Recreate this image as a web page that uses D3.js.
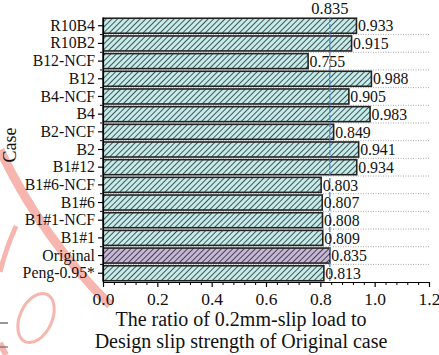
<!DOCTYPE html>
<html><head><meta charset="utf-8">
<script src="https://cdn.jsdelivr.net/npm/d3@7"></script>
<style>html,body{margin:0;padding:0;background:#fff;overflow:hidden}svg{display:block}</style>
</head><body>
<script>
const categories = ["R10B4","R10B2","B12-NCF","B12","B4-NCF","B4","B2-NCF","B2","B1#12","B1#6-NCF","B1#6","B1#1-NCF","B1#1","Original","Peng-0.95*"];
const values = [0.933,0.915,0.755,0.988,0.905,0.983,0.849,0.941,0.934,0.803,0.807,0.808,0.809,0.835,0.813];
const refValue = 0.835;
const xTicks = [0.0,0.2,0.4,0.6,0.8,1.0,1.2];
const xTitle = ["The ratio of 0.2mm-slip load to","Design slip strength of Original case"];
const yTitle = "Case";

const W = 439, H = 355;
const m = {l:103, r:10, t:17, b:73};
const font = "'Liberation Serif','Times New Roman',serif";
const svg = d3.select("body").append("svg").attr("width",W).attr("height",H);

// faint watermark decoration
const wm = svg.append("g").attr("fill","none").attr("stroke","#f5a39b").attr("stroke-opacity",0.8);
wm.append("path").attr("d","M0,150 A549,549 0 0 0 110,305").attr("stroke-width",9);
wm.append("path").attr("d","M16,226 Q6,248 0,272").attr("stroke-width",5);
wm.append("ellipse").attr("cx",36).attr("cy",318).attr("rx",16).attr("ry",26).attr("transform","rotate(25,36,318)").attr("stroke-width",3);
wm.append("path").attr("d","M0,343 L6,355").attr("stroke-width",6);
svg.append("line").attr("x1",0).attr("x2",8).attr("y1",323).attr("y2",323).attr("stroke","#333").attr("stroke-width",1);
svg.append("line").attr("x1",0).attr("x2",8).attr("y1",347).attr("y2",347).attr("stroke","#555").attr("stroke-width",1);

const defs = svg.append("defs");
function hatch(id, bg){
  const p = defs.append("pattern").attr("id",id).attr("patternUnits","userSpaceOnUse")
    .attr("width",4).attr("height",4).attr("patternTransform","rotate(45)");
  p.append("rect").attr("width",4).attr("height",4).attr("fill",bg);
  p.append("line").attr("x1",0).attr("y1",0).attr("x2",0).attr("y2",4).attr("stroke","#111").attr("stroke-width",1.4);
}
hatch("hc","#c4ecea");
hatch("hp","#c6b6d8");

const x = d3.scaleLinear().domain([0,1.2]).range([m.l, W-m.r]);
const y = d3.scaleBand().domain(categories).range([m.t, H-m.b]).paddingInner(0.15).paddingOuter(0.07);
const step = y.step();

// dotted grid lines between bars
const gridG = svg.append("g");
categories.slice(1).forEach(c=>{
  const yy = y(c) - (step - y.bandwidth())/2;
  gridG.append("line").attr("x1",m.l).attr("x2",W-m.r).attr("y1",yy).attr("y2",yy)
    .attr("stroke","#aaa").attr("stroke-width",1).attr("stroke-dasharray","1,1.5");
});

// bars
svg.append("g").selectAll("rect").data(categories).join("rect")
  .attr("x", x(0)).attr("y", c=>y(c)).attr("height", y.bandwidth())
  .attr("width", (c,i)=>x(values[i])-x(0))
  .attr("fill", c=> c==="Original" ? "url(#hp)" : "url(#hc)")
  .attr("stroke","#222").attr("stroke-width",1.6);

// reference line
svg.append("line").attr("x1",x(refValue)).attr("x2",x(refValue)).attr("y1",m.t).attr("y2",H-m.b)
  .attr("stroke","#3f7fe0").attr("stroke-width",1.2).attr("stroke-dasharray","5,2");
svg.append("text").attr("x",x(refValue)).attr("y",m.t-3).attr("text-anchor","middle")
  .attr("font-family",font).attr("font-size",16.5).attr("fill","#111").text(d3.format(".3f")(refValue));

// value labels
svg.append("g").selectAll("text").data(categories).join("text")
  .attr("x",(c,i)=>x(values[i])+1.5).attr("y",c=>y(c)+y.bandwidth()/2).attr("dy","0.36em")
  .attr("font-family",font).attr("font-size",15.8).attr("fill","#111")
  .text((c,i)=>d3.format(".3f")(values[i]));

// axes
const xAxis = svg.append("g").attr("transform",`translate(0,${H-m.b})`)
  .call(d3.axisBottom(x).tickValues(xTicks).tickFormat(d3.format(".1f")).tickSize(5).tickSizeOuter(0));
const minor = d3.range(0,1.2001,0.04).filter(v=>Math.abs(v/0.2-Math.round(v/0.2))>1e-6);
svg.append("g").attr("transform",`translate(0,${H-m.b})`)
  .call(d3.axisBottom(x).tickValues(minor).tickFormat("").tickSize(3).tickSizeOuter(0))
  .select(".domain").remove();
xAxis.selectAll("text").attr("font-family",font).attr("font-size",17.5).attr("fill","#111").attr("dy","0.85em");

const yAxis = svg.append("g").attr("transform",`translate(${m.l},0)`)
  .call(d3.axisLeft(y).tickSize(5).tickPadding(3).tickSizeOuter(0));
yAxis.selectAll("text").attr("font-family",font).attr("font-size",15.8).attr("fill","#111");
const bounds = categories.slice(1).map(c=>y(c) - (step - y.bandwidth())/2);
bounds.forEach(b=>{
  svg.append("line").attr("x1",m.l-3).attr("x2",m.l).attr("y1",b).attr("y2",b).attr("stroke","#000");
});
[xAxis,yAxis].forEach(a=>{a.selectAll(".domain,line").attr("stroke","#000").attr("stroke-width",1.2);});

// titles
svg.append("text").attr("transform",`translate(16,145) rotate(-90)`).attr("text-anchor","middle")
  .attr("font-family",font).attr("font-size",18).attr("fill","#111").text(yTitle);
xTitle.forEach((t,i)=>{
  svg.append("text").attr("x",241).attr("y",326+i*22).attr("text-anchor","middle")
    .attr("font-family",font).attr("font-size",20).attr("fill","#111").text(t);
});
</script>
</body></html>
